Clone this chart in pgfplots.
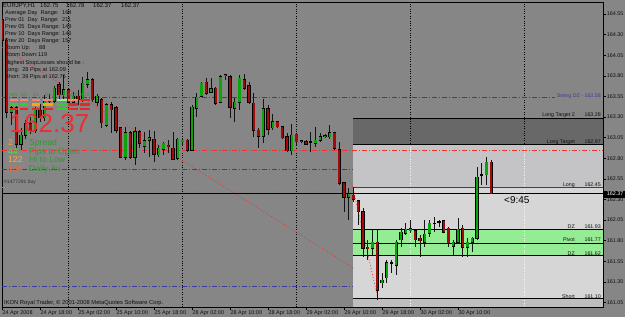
\documentclass[border=0pt]{standalone}
\usepackage{pgfplots}
\pgfplotsset{compat=1.18}
\usepackage{pgfplotstable}
\usepackage{fontspec}
\setmainfont{Liberation Sans}
\newcommand{\fs}[1]{\fontsize{#1}{#1}\selectfont}
\definecolor{bg}{RGB}{134,134,134}
\definecolor{dkbox}{RGB}{104,104,104}
\definecolor{lbox}{RGB}{196,196,198}
\definecolor{wbox}{RGB}{214,214,214}
\definecolor{gbox}{RGB}{148,236,148}
\definecolor{bstrip}{RGB}{190,190,190}
\definecolor{bull}{RGB}{10,165,10}
\definecolor{bear}{RGB}{165,10,10}
\definecolor{wick}{RGB}{20,20,20}
\definecolor{dkblue}{RGB}{60,60,160}
\definecolor{redl}{RGB}{240,50,50}
\definecolor{grl}{RGB}{70,185,70}
\definecolor{ordg}{RGB}{0,110,0}
\definecolor{bigred}{RGB}{238,45,45}
\definecolor{org}{RGB}{255,150,50}
\definecolor{org2}{RGB}{255,170,60}
\definecolor{orgred}{RGB}{255,100,40}
\definecolor{brgreen}{RGB}{60,230,60}
\definecolor{lblgreen}{RGB}{55,150,55}
\definecolor{salm}{RGB}{250,128,114}
\definecolor{lgr}{RGB}{144,238,144}
\definecolor{grn}{RGB}{50,205,50}
\definecolor{orb}{RGB}{255,165,0}
\definecolor{rdb}{RGB}{230,40,40}
\definecolor{txt}{RGB}{15,15,15}

\pgfplotstableread{
i o h l c
0 164.48 164.54 164.21 164.23
1 164.23 164.26 163.29 163.36
2 163.36 163.46 163.20 163.41
3 163.41 163.43 162.92 162.97
4 162.97 163.17 162.90 163.08
5 163.08 163.26 163.03 163.22
6 163.22 163.30 163.10 163.14
7 163.14 163.42 163.10 163.38
8 163.38 163.46 163.24 163.29
9 163.29 163.57 163.25 163.51
10 163.51 163.58 163.45 163.49
11 163.49 163.68 163.47 163.65
12 163.69 163.72 163.51 163.57
13 163.57 163.81 163.51 163.63
14 163.63 163.65 163.43 163.48
15 163.48 163.60 163.43 163.55
16 163.55 163.63 163.45 163.51
17 163.51 163.79 163.48 163.71
18 163.70 163.85 163.65 163.75
19 163.75 163.77 163.48 163.51
20 163.48 163.58 163.43 163.55
21 163.51 163.53 163.17 163.23
22 163.20 163.47 163.18 163.45
23 163.45 163.48 163.11 163.39
24 163.41 163.43 163.11 163.14
25 163.17 163.18 162.80 162.81
26 162.81 163.18 162.78 163.11
27 163.11 163.13 162.79 162.81
28 162.81 163.18 162.72 163.12
29 163.12 163.14 162.92 162.98
30 162.95 163.12 162.86 163.01
31 163.02 163.14 162.81 163.05
32 163.03 163.13 162.75 162.85
33 162.84 162.96 162.81 162.92
34 162.91 163.00 162.84 162.98
35 162.96 163.02 162.86 162.94
36 162.92 163.12 162.78 162.79
37 162.80 163.05 162.78 163.03
38 163.01 163.05 162.96 163.02
39 163.02 163.03 162.88 162.90
40 162.90 163.45 162.89 163.42
41 163.41 163.59 163.30 163.54
42 163.55 163.72 163.54 163.71
43 163.72 163.77 163.57 163.59
44 163.60 163.77 163.59 163.64
45 163.65 163.66 163.45 163.47
46 163.48 163.81 163.47 163.79
47 163.80 163.82 163.75 163.81
48 163.79 163.81 163.29 163.42
49 163.41 163.53 163.24 163.48
50 163.48 163.81 163.39 163.77
51 163.75 163.82 163.63 163.65
52 163.68 163.72 163.46 163.48
53 163.47 163.59 163.06 163.14
54 163.14 163.17 162.92 163.07
55 163.07 163.52 162.98 163.40
56 163.40 163.45 163.08 163.15
57 163.17 163.34 163.14 163.24
58 163.24 163.25 163.17 163.18
59 163.18 163.19 163.03 163.05
60 163.06 163.11 162.88 162.89
61 162.89 163.22 162.84 163.08
62 163.09 163.11 162.96 163.00
63 163.01 163.02 162.98 163.00
64 163.00 163.02 162.96 162.97
65 163.00 163.12 162.88 163.00
66 162.98 163.18 162.94 163.02
67 163.02 163.11 163.00 163.06
68 163.06 163.09 163.05 163.07
69 163.06 163.20 163.03 163.11
70 163.11 163.12 162.90 162.92
71 162.90 163.00 162.47 162.50
72 162.50 162.51 162.15 162.33
73 162.33 162.44 162.05 162.37
74 162.35 162.45 162.27 162.30
75 162.28 162.29 161.99 162.15
76 162.15 162.20 161.60 161.71
77 161.72 161.81 161.56 161.70
78 161.71 161.93 161.63 161.78
79 161.78 161.93 161.08 161.20
80 161.29 161.41 161.23 161.32
81 161.35 161.56 161.29 161.53
82 161.53 161.56 161.41 161.53
83 161.50 161.81 161.38 161.78
84 161.81 161.95 161.72 161.90
85 161.89 162.01 161.87 161.94
86 161.92 162.05 161.89 161.94
87 161.92 161.93 161.72 161.81
88 161.83 161.87 161.60 161.80
89 161.78 162.05 161.72 161.88
90 161.89 162.05 161.84 162.01
91 162.01 162.09 161.90 162.01
92 162.03 162.05 161.97 162.03
93 162.04 162.05 161.90 161.90
94 161.95 161.97 161.72 161.77
95 161.73 161.81 161.63 161.78
96 161.78 162.07 161.77 161.94
97 161.95 161.99 161.60 161.72
98 161.72 161.83 161.60 161.78
99 161.78 161.84 161.66 161.83
100 161.83 162.69 161.81 162.57
101 162.60 162.74 162.47 162.60
102 162.60 162.81 162.47 162.75
103 162.75 162.78 162.37 162.37
}\candles

\begin{document}
\begin{tikzpicture}
\useasboundingbox (0,0) rectangle (625pt,317pt);
\fill[bg] (0,0) rectangle (625pt,317pt);
\begin{axis}[
  at={(2pt,10pt)}, anchor=south west, scale only axis,
  width=601pt, height=305pt,
  xmin=0, xmax=126.53, ymin=160.994, ymax=164.696,
  axis line style={black, line width=0.6pt},
  tick align=outside, major tick length=3pt,
  tick style={black, line width=0.5pt},
  xtick pos=left, ytick pos=right, yticklabel pos=right,
  xtick={0,8,...,96},
  xticklabels={24 Apr 2008,24 Apr 18:00,25 Apr 02:00,25 Apr 10:00,25 Apr 18:00,28 Apr 02:00,28 Apr 10:00,28 Apr 18:00,29 Apr 02:00,29 Apr 10:00,29 Apr 18:00,30 Apr 02:00,30 Apr 10:00},
  xticklabel style={font=\fs{5.5}, text=txt, anchor=north west, inner sep=0pt, xshift=0.4pt, yshift=-0.6pt},
  ytick={161.05,161.30,161.55,161.80,162.05,162.30,162.55,162.80,163.05,163.30,163.55,163.80,164.05,164.30,164.55},
  yticklabel style={font=\fs{5.4}, text=txt, anchor=west, inner sep=0pt, xshift=0.6pt},
  /pgf/number format/fixed, /pgf/number format/fixed zerofill,
  /pgf/number format/precision=2, /pgf/number format/assume math mode=true,
  extra x ticks={14,38,62,86,110},
  extra x tick labels={},
  extra x tick style={grid=major, major tick length=0pt,
    major grid style={black, line width=0.5pt, dash pattern=on 0.8pt off 1.6pt}},
]
% indicator lines (left part)
\addplot[dkblue, line width=0.5pt, dash pattern=on 5pt off 2pt on 1pt off 2pt] coordinates {(0,163.54) (116.5,163.54)};
\addplot[dkblue, line width=0.5pt, dash pattern=on 5pt off 2pt on 1pt off 2pt] coordinates {(0,162.67) (74.5,162.67)};
\addplot[dkblue, line width=0.5pt, dash pattern=on 5pt off 2pt on 1pt off 2pt] coordinates {(0,161.25) (74.5,161.25)};
\addplot[grl, line width=0.6pt, dash pattern=on 2.5pt off 2.5pt] coordinates {(0,162.45) (73.9,162.45)};
% zones
\addplot[draw=none, fill=dkbox] coordinates {(73.9,163.28) (126.53,163.28) (126.53,162.97) (73.9,162.97)};
\addplot[draw=none, fill=lbox] coordinates {(73.9,162.97) (126.53,162.97) (126.53,162.45) (73.9,162.45)};
\addplot[draw=none, fill=wbox] coordinates {(73.9,162.45) (126.53,162.45) (126.53,161.93) (73.9,161.93)};
\addplot[draw=none, fill=gbox] coordinates {(73.9,161.93) (126.53,161.93) (126.53,161.62) (73.9,161.62)};
\addplot[draw=none, fill=wbox] coordinates {(73.9,161.62) (126.53,161.62) (126.53,161.10) (73.9,161.10)};
\addplot[draw=none, fill=bstrip] coordinates {(73.9,161.10) (126.53,161.10) (126.53,160.994) (73.9,160.994)};
% grid in panel
\addplot[black, line width=0.5pt, dash pattern=on 0.8pt off 1.6pt] coordinates {(86,163.28) (86,162.97)};
\addplot[black, line width=0.5pt, dash pattern=on 0.8pt off 1.6pt] coordinates {(110,163.28) (110,162.97)};
\addplot[white!92!gray, line width=0.5pt, dash pattern=on 0.8pt off 1.6pt] coordinates {(86,162.97) (86,160.994)};
\addplot[white!92!gray, line width=0.5pt, dash pattern=on 0.8pt off 1.6pt] coordinates {(110,162.97) (110,160.994)};
% zone level lines
\addplot[black, line width=0.8pt] coordinates {(73.9,163.28) (126.53,163.28)};
\addplot[black, line width=0.8pt] coordinates {(73.9,162.97) (126.53,162.97)};
\addplot[ordg, line width=0.8pt] coordinates {(73.9,162.45) (126.53,162.45)};
\addplot[black, line width=0.8pt] coordinates {(73.9,161.93) (126.53,161.93)};
\addplot[black, line width=0.8pt] coordinates {(73.9,161.77) (126.53,161.77)};
\addplot[black, line width=0.8pt] coordinates {(73.9,161.62) (126.53,161.62)};
\addplot[black, line width=0.8pt] coordinates {(73.9,161.10) (126.53,161.10)};
% daily open and bid
\addplot[redl, line width=0.6pt, dash pattern=on 5pt off 2pt on 1pt off 2pt] coordinates {(0,162.90) (126.53,162.90)};
\addplot[black, line width=0.6pt] coordinates {(0,162.37) (126.53,162.37)};
% zigzag / trend lines
\addplot[redl, line width=0.7pt, dash pattern=on 1pt off 2pt] coordinates {(0,164.15) (74.3,161.455)};
\addplot[redl, line width=0.7pt, dash pattern=on 1pt off 2pt] coordinates {(73.8,162.46) (79.2,161.08)};
% candles: wicks
\addplot[draw=none, mark=none, error bars/.cd, y dir=both, y explicit, error mark=none,
  error bar style={draw=wick, solid, line width=0.8pt}]
  table[x=i, y expr={(\thisrow{h}+\thisrow{l})/2}, y error expr={(\thisrow{h}-\thisrow{l})/2}] {\candles};
% body outlines
\addplot[draw=none, mark=none, error bars/.cd, y dir=both, y explicit, error mark=none,
  error bar style={draw=black, solid, line width=3.2pt}]
  table[x=i, y expr={(\thisrow{o}+\thisrow{c})/2}, y error expr={abs(\thisrow{o}-\thisrow{c})/2+0.007}] {\candles};
% bull bodies
\addplot[draw=none, mark=none, error bars/.cd, y dir=both, y explicit, error mark=none,
  error bar style={draw=bull, solid, line width=2.2pt}]
  table[x=i, y expr={\thisrow{c}>\thisrow{o} ? (\thisrow{o}+\thisrow{c})/2 : nan}, y error expr={abs(\thisrow{c}-\thisrow{o})/2}] {\candles};
% bear bodies
\addplot[draw=none, mark=none, error bars/.cd, y dir=both, y explicit, error mark=none,
  error bar style={draw=bear, solid, line width=2.2pt}]
  table[x=i, y expr={\thisrow{c}<\thisrow{o} ? (\thisrow{o}+\thisrow{c})/2 : nan}, y error expr={abs(\thisrow{c}-\thisrow{o})/2}] {\candles};
\end{axis}

\begin{scope}[shift={(0pt,317pt)}, x=1pt, y=-1pt, every node/.style={inner sep=0pt, text=txt}]
% header and indicator text
\node[anchor=base west, font=\fs{6}] at (3,7.5) {EURJPY,H1};
\node[anchor=base west, font=\fs{6}] at (40,7.5) {162.75};
\node[anchor=base west, font=\fs{6}] at (66,7.5) {162.78};
\node[anchor=base west, font=\fs{6}] at (93,7.5) {162.37};
\node[anchor=base west, font=\fs{6}] at (121,7.5) {162.37};
\node[anchor=base west, font=\fs{5.6}] at (5,14.3) {Average Day\ \ Range:};
\node[anchor=base west, font=\fs{5.6}] at (62,14.3) {164};
\node[anchor=base west, font=\fs{5.6}] at (5,21.4) {Prev 01\ \ Day\ \ Range:};
\node[anchor=base west, font=\fs{5.6}] at (62,21.4) {211};
\node[anchor=base west, font=\fs{5.6}] at (5,28.5) {Prev 05\ \ Days Range:};
\node[anchor=base west, font=\fs{5.6}] at (62,28.5) {149};
\node[anchor=base west, font=\fs{5.6}] at (5,35.6) {Prev 10\ \ Days Range:};
\node[anchor=base west, font=\fs{5.6}] at (62,35.6) {146};
\node[anchor=base west, font=\fs{5.6}] at (5,42.7) {Prev 20\ \ Days Range:};
\node[anchor=base west, font=\fs{5.6}] at (62,42.7) {157};
\node[anchor=base west, font=\fs{5.6}] at (5,49.8) {Room Up:};
\node[anchor=base west, font=\fs{5.6}] at (39,49.8) {88};
\node[anchor=base west, font=\fs{5.6}] at (5,56.9) {Room Down:};
\node[anchor=base west, font=\fs{5.6}] at (38,56.9) {119};
\node[anchor=base west, font=\fs{5.6}] at (5,64) {Highest StopLosses should be :};
\node[anchor=base west, font=\fs{5.6}] at (5,71.1) {Long:\ \ 28 Pips at 162.09};
\node[anchor=base west, font=\fs{5.6}] at (5,78.2) {Short: 39 Pips at 162.76};
% timeframe matrix
\foreach \xc/\lab in {14/MN,24/W1,36/D1,48/H4,62/H1,73/M30,85/M15}
  \node[anchor=base, font=\fs{4.6}, text=lblgreen] at (\xc,96) {\lab};
\foreach \xa/\xb/\ca/\cb/\cc in {10/18/salm/grn/rdb,20/28/salm/grn/rdb,32/40/salm/orb/rdb,43/53/salm/orb/rdb,57/67/lgr/grn/grn,68/78/salm/rdb/rdb,80/90/rdb/rdb/rdb}{
  \fill[\ca] (\xa,98.8) rectangle (\xb,101.2);
  \fill[\cb] (\xa,103.3) rectangle (\xb,105.7);
  \fill[\cc] (\xa,107.8) rectangle (\xb,110.2);
}
\node[anchor=base west, font=\fs{26}, text=bigred, text depth=0pt] at (9.5,132.5) {162.37};
\begin{scope}[every node/.append style={anchor=base west, font=\fs{8.6}, text height=6.2pt, text depth=0pt}]
\node[text=org] at (8,145.3) {2};
\node[text=lblgreen] at (29,145.3) {Spread};
\node[text=brgreen] at (8,154) {44};
\node[text=lblgreen] at (29,154) {Pips to Open};
\node[text=org2] at (8,162.6) {122};
\node[text=lblgreen] at (29,162.6) {Hi to Low};
\node[text=orgred] at (8,171.2) {164};
\node[text=lblgreen] at (29,171.2) {Daily Av};
\end{scope}
\node[anchor=base west, font=\fs{5}, text={black!80}] at (4,183) {\#1477291 buy};
\node[anchor=base west, font=\fs{5.8}] at (4,304.5) {IKON Royal Trader, © 2001-2008 MetaQuotes Software Corp.};
% right side labels
\node[anchor=base east, font=\fs{5.3}, text=dkblue] at (601,97) {Swing DZ - 163.58};
\node[anchor=base east, font=\fs{5.3}] at (575,116.3) {Long Target 2};
\node[anchor=base east, font=\fs{5.3}] at (601,116.3) {163.28};
\node[anchor=base east, font=\fs{5.3}] at (575,143.3) {Long Target};
\node[anchor=base east, font=\fs{5.3}] at (601,143.3) {162.97};
\node[anchor=base east, font=\fs{5.3}] at (575,186) {Long};
\node[anchor=base east, font=\fs{5.3}] at (601,186) {162.45};
\node[anchor=base east, font=\fs{5.3}] at (575,228.5) {DZ};
\node[anchor=base east, font=\fs{5.3}] at (601,228.5) {161.93};
\node[anchor=base east, font=\fs{5.3}] at (575,241.5) {Pivot};
\node[anchor=base east, font=\fs{5.3}] at (601,241.5) {161.77};
\node[anchor=base east, font=\fs{5.3}] at (575,255) {DZ};
\node[anchor=base east, font=\fs{5.3}] at (601,255) {161.62};
\node[anchor=base east, font=\fs{5.3}] at (575,298) {Short};
\node[anchor=base east, font=\fs{5.3}] at (601,298) {161.10};
\node[anchor=base west, font=\fs{10}, text=black] at (504,203) {<9:45};
% current price box on the price scale
\fill[black] (603.3,190.5) rectangle (625,197.5);
\node[anchor=west, font=\fs{5.4}, text=white] at (606.6,194) {162.37};
\end{scope}
\end{tikzpicture}
\end{document}
